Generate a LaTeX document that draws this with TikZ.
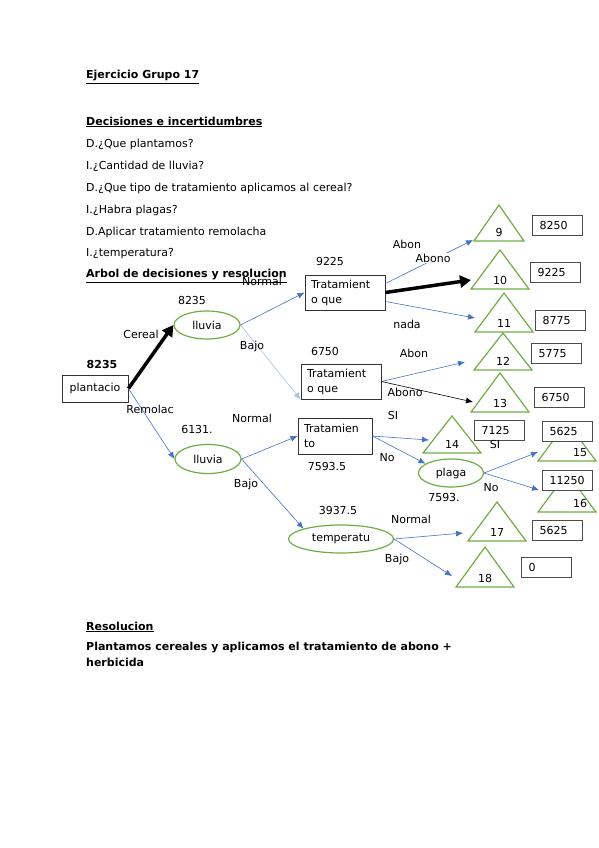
\documentclass[tikz,border=0pt]{standalone}
\usepackage{fontspec}
\setmainfont{DejaVu Sans}
\usepackage{xcolor}
\usetikzlibrary{arrows.meta,calc,shapes.geometric}
\definecolor{verde}{HTML}{70AD47}
\definecolor{azul}{HTML}{4472C4}

\begin{document}
\begin{tikzpicture}[x=1pt,y=-1pt,
  every node/.style={font=\fontsize{11}{15}\selectfont},
  txt/.style={anchor=west,inner sep=0pt},
  caja/.style={draw=black!80,line width=.9pt,fill=white,align=left,text width=68pt,inner xsep=6pt,minimum height=35pt},
  valor/.style={draw=black!70,line width=1.1pt,fill=white,text width=36pt,inner xsep=7pt,minimum height=20pt,anchor=north west,align=left},
  azar/.style={draw=verde,line width=1.2pt,ellipse,fill=white,inner sep=0pt},
  flecha/.style={draw=azul,line width=.6pt,-{Latex[length=7pt,width=6pt]}},
  gruesa/.style={line width=3.5pt,-{Triangle[length=11pt,width=12pt]}},
  etq/.style={inner sep=1pt}]
\useasboundingbox (0,0) rectangle (599,848);
% enunciado
\node[txt] (tit) at (86,77) {\underline{\textbf{Ejercicio Grupo 17}}};
\node[txt] (dec) at (86,122) {\underline{\textbf{Decisiones e incertidumbres}}};
\node[txt] (q1) at (86,144) {D.¿Que plantamos?};
\node[txt] (q2) at (86,166) {I.¿Cantidad de lluvia?};
\node[txt] (q3) at (86,188) {D.¿Que tipo de tratamiento aplicamos al cereal?};
\node[txt] (q4) at (86,210) {I.¿Habra plagas?};
\node[txt] (q5) at (86,232) {D.Aplicar tratamiento remolacha};
\node[txt] (q6) at (86,254) {I.¿temperatura?};
\node[txt] (arb) at (86,276) {\underline{\textbf{Arbol de decisiones y resolucion}}};
% nudos finales
\foreach \n/\ax/\ay/\hw/\h/\lx/\ex/\ey in {9/499/205/25/36/0/473/240,10/500/250/29/39/0/471/280,
  11/504/293/29/39/0/475/318,12/503/333/29/37/0/465/362,13/500/373/29/39/0/473/402,
  14/452/416/29/37/0/429/440,15/567/422/29/39/13/538/452,16/567/473/29/39/13/539/490,
  17/497/502/29/39/0/463/533,18/485/547/29/40/0/452/576}{
  \draw[draw=verde,line width=1.2pt,fill=white] (\ax,\ay) -- (\ax+\hw,\ay+\h) -- (\ax-\hw,\ay+\h) -- cycle;
  \node[inner sep=0pt,anchor=base] (n\n) at (\ax+\lx,\ay+\h-5) {\n};
  \coordinate (t\n) at (\ex,\ey);
}
\node[valor] (v9) at (532,215) {8250};
\node[valor] (v10) at (530,262) {9225};
\node[valor] (v11) at (535,310) {8775};
\node[valor] (v12) at (531,343) {5775};
\node[valor] (v13) at (534,387) {6750};
\node[valor] (v14) at (474,420) {7125};
\node[valor] (v15) at (542,421) {5625};
\node[valor] (v16) at (542,470) {11250};
\node[valor] (v17) at (532,520) {5625};
\node[valor] (v18) at (521,557) {0};
% decisiones y azar
\node[draw=black!80,line width=.9pt,fill=white,minimum width=66pt,minimum height=27pt] (plant) at (95,388.5) {plantacio};
\node[azar,minimum width=66pt,minimum height=28pt] (ll1) at (207,325) {lluvia};
\node[azar,minimum width=66pt,minimum height=29pt] (ll2) at (208,459) {lluvia};
\node[caja] (tr1) at (345,292.5) {Tratamient\\o que};
\node[caja] (tr2) at (341,381.5) {Tratamient\\o que};
\node[caja,text width=62pt,minimum height=36pt] (tr3) at (335,436) {Tratamien\\to};
\node[azar,minimum width=65pt,minimum height=28pt] (plaga) at (451,473) {plaga};
\node[azar,minimum width=105pt,minimum height=28pt] (temp) at (341,539) {temperatu};
% ramas
\draw[gruesa] (plant.east) -- (ll1.west);
\draw[flecha] (plant.east) -- (ll2.west);
\draw[flecha] (ll1.east) -- (tr1.west);
\draw[flecha,draw=azul!45] (ll1.east) -- (tr2.south west);
\draw[flecha] ($(tr1.east)+(0,-9)$) -- (t9);
\draw[gruesa] (tr1.east) -- (t10);
\draw[flecha] ($(tr1.east)+(0,9)$) -- (t11);
\draw[flecha] (tr2.east) -- (t12);
\draw[line width=.6pt,-{Latex[length=7pt,width=6pt]}] (tr2.east) -- (t13);
\draw[flecha] (ll2.east) -- (tr3.west);
\draw[flecha] (ll2.east) -- (temp.north west);
\draw[flecha] (tr3.east) -- (t14);
\draw[flecha] (tr3.east) -- (plaga.160);
\draw[flecha] (plaga.east) -- (t15);
\draw[flecha] (plaga.east) -- (t16);
\draw[flecha] (temp.east) -- (t17);
\draw[flecha] (temp.east) -- (t18);
% etiquetas
\node[etq] (e0) at (102,364) {\textbf{8235}};
\node[etq] (e1) at (141,334) {Cereal};
\node[etq] (e2) at (150,409) {Remolac};
\node[etq] (e3) at (192,300) {8235};
\node[etq] (e4) at (262,281) {Normal};
\node[etq] (e5) at (252,346) {Bajo};
\node[etq] (e6) at (330,261) {9225};
\node[etq] (e7) at (325,351) {6750};
\node[etq] (e8) at (407,244) {Abon};
\node[etq,fill=white] (e9) at (433,258) {Abono};
\node[etq] (e10) at (407,324) {nada};
\node[etq] (e11) at (414,353) {Abon};
\node[etq] (e12) at (405,392) {Abono};
\node[etq] (e13) at (197,429) {6131.};
\node[etq] (e14) at (252,418) {Normal};
\node[etq] (e15) at (393,415) {SI};
\node[etq] (e16) at (387,458) {No};
\node[etq] (e17) at (327,466) {7593.5};
\node[etq] (e18) at (495,444) {SI};
\node[etq] (e19) at (491,488) {No};
\node[etq] (e20) at (444,497) {7593.};
\node[etq] (e21) at (246,484) {Bajo};
\node[etq] (e22) at (338,510) {3937.5};
\node[etq] (e23) at (411,519) {Normal};
\node[etq] (e24) at (397,559) {Bajo};
% resolucion
\node[txt] (res) at (86,627) {\underline{\textbf{Resolucion}}};
\node[txt] (r1) at (86,648) {\textbf{Plantamos cereales y aplicamos el tratamiento de abono +}};
\node[txt] (r2) at (86,662) {\textbf{herbicida}};
\end{tikzpicture}
\end{document}
